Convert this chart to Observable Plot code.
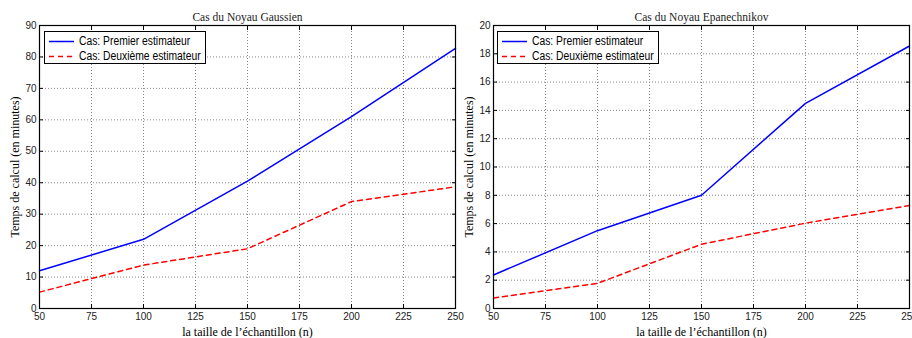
<!DOCTYPE html>
<html>
<head>
<meta charset="utf-8">
<script src="https://cdn.jsdelivr.net/npm/d3@7"></script>
<script src="https://cdn.jsdelivr.net/npm/@observablehq/plot@0.6"></script>
<style>
  html, body { margin: 0; padding: 0; background: #fff; }
  #wrap { position: relative; width: 912px; height: 338px; overflow: hidden; }
  .panel { position: absolute; top: 0; }
  .panel svg { overflow: visible; }
  .legend { position: absolute; top: 31px; border: 1.5px solid #000; background: #fff;
    font-family: "Liberation Sans", Arial, sans-serif; font-size: 12px; color: #000; box-sizing: border-box; }
  .legend .row { position: absolute; left: 0; height: 15px; line-height: 15px; white-space: nowrap; }
  .legend svg { position: absolute; left: 4px; top: 0; }
  .legend span { position: absolute; left: 34px; top: 0; transform: scaleX(0.86); transform-origin: left center; }
</style>
</head>
<body>
<div id="wrap"></div>
<script>
// ---- data ----
const sampleSizes = [50, 100, 150, 200, 250];
const gaussPremier = [12, 22, 40.5, 61, 82.7];
const gaussDeuxieme = [5.2, 13.8, 19, 34, 38.7];
const epanPremier = [2.37, 5.5, 8, 14.5, 18.55];
const epanDeuxieme = [0.74, 1.78, 4.54, 6.03, 7.28];
const xTicks = [50, 75, 100, 125, 150, 175, 200, 225, 250];
const gaussYTicks = [0, 10, 20, 30, 40, 50, 60, 70, 80, 90];
const epanYTicks = [0, 2, 4, 6, 8, 10, 12, 14, 16, 18, 20];
const seriesNames = ["Cas: Premier estimateur", "Cas: Deuxième estimateur"];
const titles = ["Cas du Noyau Gaussien", "Cas du Noyau Epanechnikov"];
const xLabel = "la taille de l’échantillon (n)";
const yLabel = "Temps de calcul (en minutes)";

const blue = "#0000ff", red = "#ff0000";
const sans = "Liberation Sans, Arial, sans-serif";
const serif = "Liberation Serif, Times New Roman, serif";

function makePanel(left, marginLeft, marginRight, title, s1, s2, yDomain, yTicks) {
  const rows = sampleSizes.map((n, i) => ({n, t: s1[i], s: seriesNames[0]}));
  const rows2 = sampleSizes.map((n, i) => ({n, t: s2[i], s: seriesNames[1]}));
  const chart = Plot.plot({
    width: 456, height: 338,
    marginTop: 25, marginBottom: 30, marginLeft, marginRight,
    x: {domain: [50, 250]},
    y: {domain: yDomain},
    style: {background: "transparent"},
    marks: [
      Plot.gridX(xTicks, {stroke: "#888", strokeOpacity: 1, strokeDasharray: "1,2"}),
      Plot.gridY(yTicks, {stroke: "#888", strokeOpacity: 1, strokeDasharray: "1,2"}),
      Plot.axisX(xTicks, {anchor: "bottom", tickSize: -4, tickPadding: 8, label: null, fontFamily: sans, fontSize: 10, fill: "#222"}),
      Plot.axisX(xTicks, {anchor: "top", tickSize: -4, tickFormat: () => "", label: null}),
      Plot.axisY(yTicks, {anchor: "left", tickSize: -4, tickPadding: 7, label: null, fontFamily: sans, fontSize: 10, fill: "#222"}),
      Plot.axisY(yTicks, {anchor: "right", tickSize: -4, tickFormat: () => "", label: null}),
      Plot.axisX({anchor: "bottom", ticks: [], tickSize: 0, label: xLabel, labelArrow: "none", labelAnchor: "center", labelOffset: 27, fontFamily: serif, fontSize: 12}),
      Plot.axisY({anchor: "left", ticks: [], tickSize: 0, label: yLabel, labelArrow: "none", labelAnchor: "center", labelOffset: 29, fontFamily: serif, fontSize: 12}),
      Plot.text([title], {frameAnchor: "top", lineAnchor: "bottom", dy: -5, fontFamily: serif, fontSize: 11.5, fill: "#222"}),
      Plot.line(rows, {x: "n", y: "t", stroke: blue, strokeWidth: 1.5}),
      Plot.line(rows2, {x: "n", y: "t", stroke: red, strokeWidth: 1.5, strokeDasharray: "5,4"}),
      Plot.frame({stroke: "#000", strokeWidth: 1.2})
    ]
  });
  const div = document.createElement("div");
  div.className = "panel";
  div.style.left = left + "px";
  div.appendChild(chart);
  document.getElementById("wrap").appendChild(div);
}

function makeLegend(left, width) {
  const lg = document.createElement("div");
  lg.className = "legend";
  lg.style.left = left + "px";
  lg.style.width = width + "px";
  lg.style.height = "33px";
  [[blue, null, 2], [red, "5,4", 17]].forEach(([c, dash, top], i) => {
    const row = document.createElement("div");
    row.className = "row";
    row.style.top = top + "px";
    row.innerHTML = `<svg width="26" height="15"><line x1="0" x2="25" y1="7.5" y2="7.5" stroke="${c}" stroke-width="1.5" ${dash ? `stroke-dasharray="${dash}"` : ""}/></svg><span>${seriesNames[i]}</span>`;
    lg.appendChild(row);
  });
  document.getElementById("wrap").appendChild(lg);
}

makePanel(0, 39, 1, titles[0], gaussPremier, gaussDeuxieme, [0, 90], gaussYTicks);
makePanel(456, 37, 3, titles[1], epanPremier, epanDeuxieme, [0, 20], epanYTicks);
makeLegend(44, 162);
makeLegend(497, 162);
</script>
</body>
</html>
